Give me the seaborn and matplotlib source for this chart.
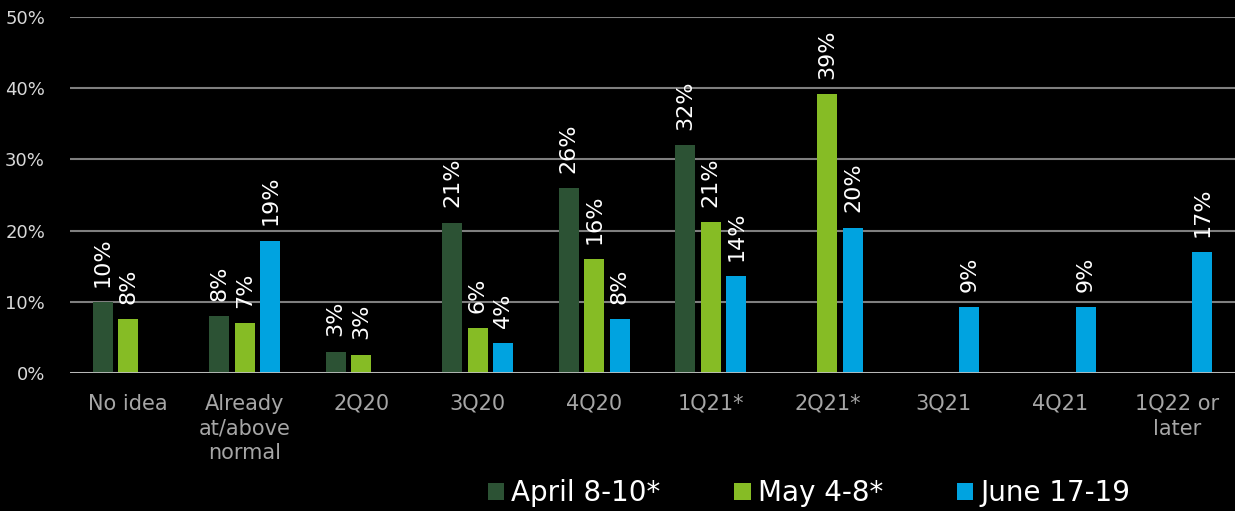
import seaborn as sns
import matplotlib.pyplot as plt
import numpy as np
import pandas as pd

categories = ["No idea", "Already\nat/above\nnormal", "2Q20", "3Q20", "4Q20",
              "1Q21*", "2Q21*", "3Q21", "4Q21", "1Q22 or\nlater"]
series = ["April 8-10*", "May 4-8*", "June 17-19"]
april = [10.0, 8.0, 3.0, 21.1, 26.0, 32.0, np.nan, np.nan, np.nan, np.nan]
may = [7.6, 7.0, 2.6, 6.3, 16.0, 21.2, 39.2, np.nan, np.nan, np.nan]
june = [np.nan, 18.6, np.nan, 4.2, 7.6, 13.6, 20.4, 9.3, 9.3, 17.0]
colors = ["#2C5234", "#86BC25", "#00A3E0"]

df = pd.DataFrame({
    "category": categories * 3,
    "series": [series[0]] * 10 + [series[1]] * 10 + [series[2]] * 10,
    "value": april + may + june,
})

sns.set_style("dark")
plt.rcParams["font.family"] = ["DejaVu Sans"]

fig = plt.figure(figsize=(12.35, 5.11), dpi=100, facecolor="black")
ax = fig.add_axes([0.0567, 0.270, 0.9433, 0.697])
ax.set_facecolor("black")

sns.barplot(data=df, x="category", y="value", hue="series", order=categories,
            hue_order=series, palette=colors, width=0.66, gap=0.22,
            saturation=1, linewidth=0, ax=ax, legend=True)

for cont in ax.containers:
    labels = ["" if np.isnan(v) else f"{v:.0f}%" for v in cont.datavalues]
    ax.bar_label(cont, labels=labels, rotation=90, padding=11, color="white",
                 fontsize=16)

ax.set_ylim(0, 50)
ax.set_xlim(-0.5, len(categories) - 0.5)
ax.set_yticks(range(0, 51, 10))
ax.set_yticklabels([f"{t}%" for t in range(0, 51, 10)])
ax.grid(axis="y", color="#7f7f7f", linewidth=1.5)
ax.grid(axis="x", visible=False)
ax.axhline(0, color="#bfbfbf", linewidth=2, zorder=3)
ax.set_axisbelow(True)
for s in ax.spines.values():
    s.set_visible(False)
ax.set_xlabel("")
ax.set_ylabel("")
ax.tick_params(axis="y", colors="#d9d9d9", labelsize=13, length=0, pad=18)
ax.tick_params(axis="x", colors="#a6a6a6", labelsize=15, length=0, pad=15)
for lbl in ax.get_xticklabels():
    lbl.set_linespacing(1.3)
    lbl.set_verticalalignment("top")

handles, labs = ax.get_legend_handles_labels()
ax.legend_.remove()
for h in handles:
    h.set_linewidth(0)
fig.legend(handles, labs, loc="center", bbox_to_anchor=(0.655, 0.035),
           ncol=3, frameon=False, fontsize=20, labelcolor="white",
           handlelength=0.6, handleheight=0.6, handletextpad=0.25,
           columnspacing=2.65)

fig.savefig("out.png", dpi=100, facecolor="black")
